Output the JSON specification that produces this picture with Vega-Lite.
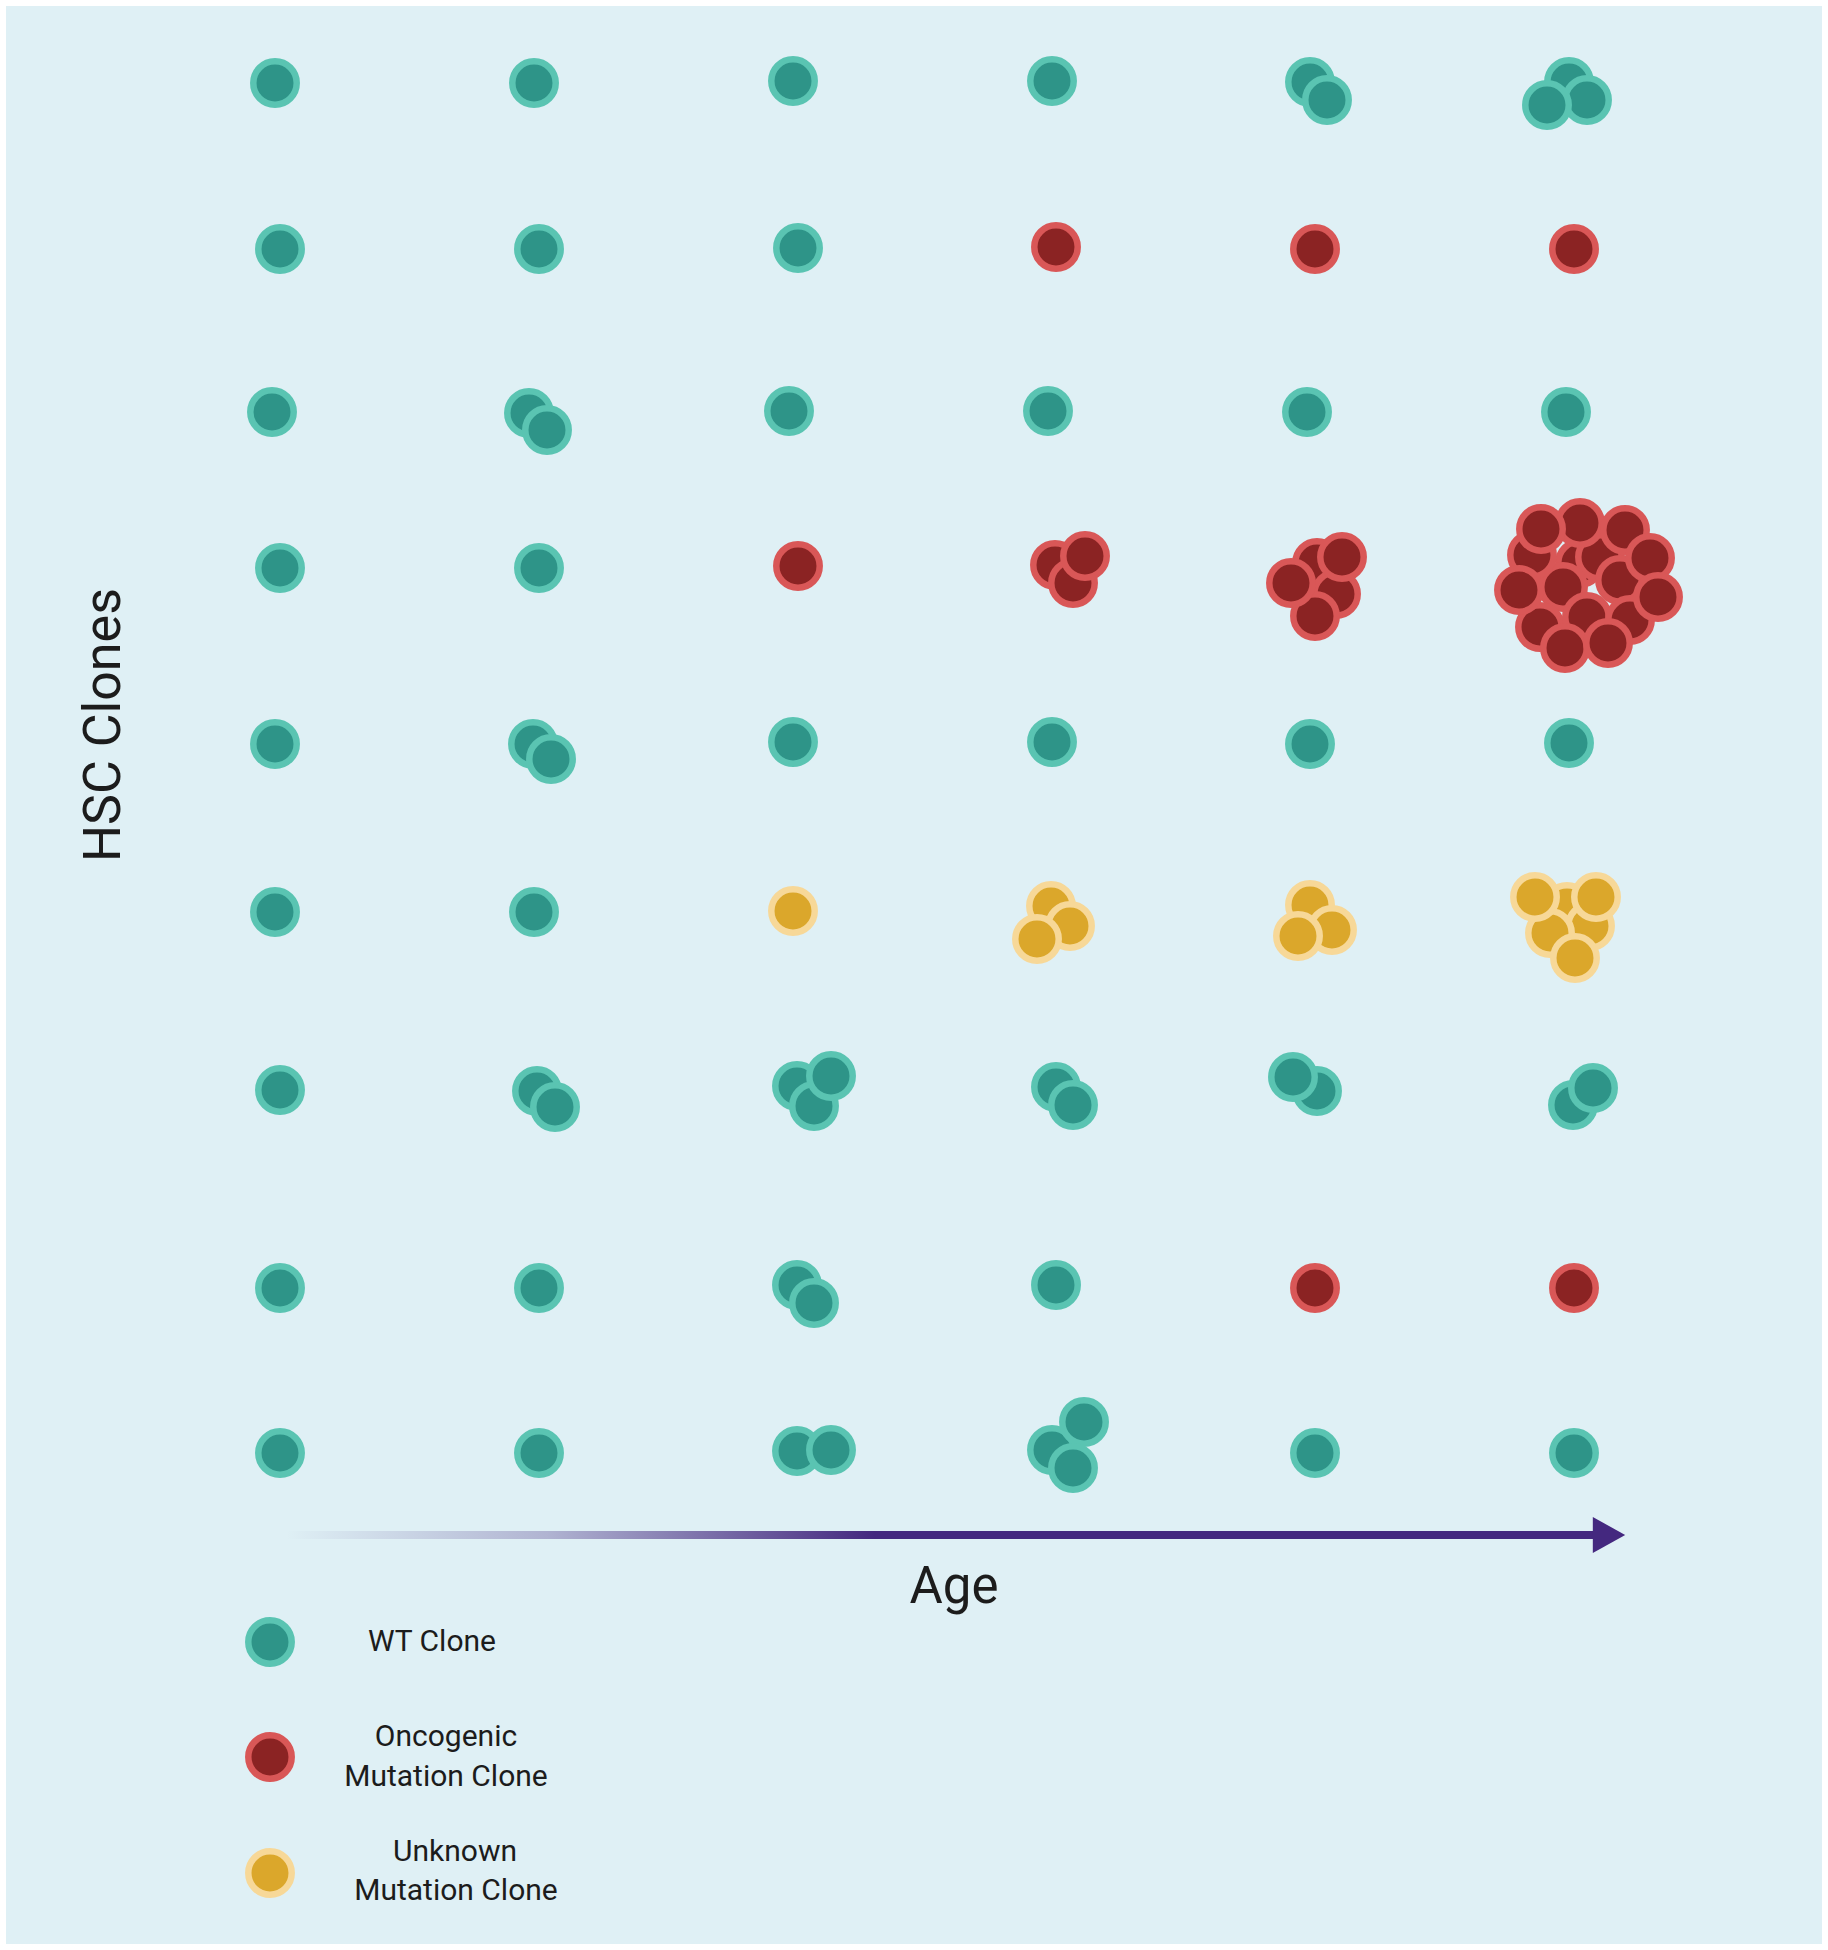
{
  "$schema": "https://vega.github.io/schema/vega-lite/v6.json",
  "width": 1828,
  "height": 1950,
  "autosize": {"type": "fit", "contains": "padding"},
  "padding": 0,
  "background": "#ffffff",
  "config": {"view": {"stroke": null}},
  "datasets": {
    "panel": [{"x": 6, "x2": 1822, "y": 6, "y2": 1944}],
    "arrow": [{"x": 286, "x2": 1594, "y": 1531, "y2": 1539}],
    "head": [{"x": 1609, "y": 1535}],
    "cells": [
      {"age": 1, "clone": 1, "type": "WT", "x": 275, "y": 83},
      {"age": 2, "clone": 1, "type": "WT", "x": 534, "y": 83},
      {"age": 3, "clone": 1, "type": "WT", "x": 793, "y": 81},
      {"age": 4, "clone": 1, "type": "WT", "x": 1052, "y": 81},
      {"age": 5, "clone": 1, "type": "WT", "x": 1310, "y": 82},
      {"age": 5, "clone": 1, "type": "WT", "x": 1327, "y": 100},
      {"age": 6, "clone": 1, "type": "WT", "x": 1569, "y": 82},
      {"age": 6, "clone": 1, "type": "WT", "x": 1587, "y": 100},
      {"age": 6, "clone": 1, "type": "WT", "x": 1547, "y": 105},

      {"age": 1, "clone": 2, "type": "WT", "x": 280, "y": 249},
      {"age": 2, "clone": 2, "type": "WT", "x": 539, "y": 249},
      {"age": 3, "clone": 2, "type": "WT", "x": 798, "y": 248},
      {"age": 4, "clone": 2, "type": "Oncogenic", "x": 1056, "y": 247},
      {"age": 5, "clone": 2, "type": "Oncogenic", "x": 1315, "y": 249},
      {"age": 6, "clone": 2, "type": "Oncogenic", "x": 1574, "y": 249},

      {"age": 1, "clone": 3, "type": "WT", "x": 272, "y": 412},
      {"age": 2, "clone": 3, "type": "WT", "x": 529, "y": 413},
      {"age": 2, "clone": 3, "type": "WT", "x": 547, "y": 430},
      {"age": 3, "clone": 3, "type": "WT", "x": 789, "y": 411},
      {"age": 4, "clone": 3, "type": "WT", "x": 1048, "y": 411},
      {"age": 5, "clone": 3, "type": "WT", "x": 1307, "y": 412},
      {"age": 6, "clone": 3, "type": "WT", "x": 1566, "y": 412},

      {"age": 1, "clone": 4, "type": "WT", "x": 280, "y": 568},
      {"age": 2, "clone": 4, "type": "WT", "x": 539, "y": 568},
      {"age": 3, "clone": 4, "type": "Oncogenic", "x": 798, "y": 566},
      {"age": 4, "clone": 4, "type": "Oncogenic", "x": 1055, "y": 565},
      {"age": 4, "clone": 4, "type": "Oncogenic", "x": 1073, "y": 583},
      {"age": 4, "clone": 4, "type": "Oncogenic", "x": 1085, "y": 556},
      {"age": 5, "clone": 4, "type": "Oncogenic", "x": 1317, "y": 563},
      {"age": 5, "clone": 4, "type": "Oncogenic", "x": 1336, "y": 594},
      {"age": 5, "clone": 4, "type": "Oncogenic", "x": 1315, "y": 616},
      {"age": 5, "clone": 4, "type": "Oncogenic", "x": 1291, "y": 583},
      {"age": 5, "clone": 4, "type": "Oncogenic", "x": 1342, "y": 557},
      {"age": 6, "clone": 4, "type": "Oncogenic", "x": 1580, "y": 563},
      {"age": 6, "clone": 4, "type": "Oncogenic", "x": 1600, "y": 557},
      {"age": 6, "clone": 4, "type": "Oncogenic", "x": 1563, "y": 587},
      {"age": 6, "clone": 4, "type": "Oncogenic", "x": 1620, "y": 580},
      {"age": 6, "clone": 4, "type": "Oncogenic", "x": 1532, "y": 555},
      {"age": 6, "clone": 4, "type": "Oncogenic", "x": 1540, "y": 627},
      {"age": 6, "clone": 4, "type": "Oncogenic", "x": 1587, "y": 617},
      {"age": 6, "clone": 4, "type": "Oncogenic", "x": 1630, "y": 620},
      {"age": 6, "clone": 4, "type": "Oncogenic", "x": 1580, "y": 523},
      {"age": 6, "clone": 4, "type": "Oncogenic", "x": 1541, "y": 529},
      {"age": 6, "clone": 4, "type": "Oncogenic", "x": 1625, "y": 530},
      {"age": 6, "clone": 4, "type": "Oncogenic", "x": 1650, "y": 558},
      {"age": 6, "clone": 4, "type": "Oncogenic", "x": 1658, "y": 597},
      {"age": 6, "clone": 4, "type": "Oncogenic", "x": 1519, "y": 590},
      {"age": 6, "clone": 4, "type": "Oncogenic", "x": 1565, "y": 648},
      {"age": 6, "clone": 4, "type": "Oncogenic", "x": 1608, "y": 643},

      {"age": 1, "clone": 5, "type": "WT", "x": 275, "y": 744},
      {"age": 2, "clone": 5, "type": "WT", "x": 533, "y": 744},
      {"age": 2, "clone": 5, "type": "WT", "x": 551, "y": 759},
      {"age": 3, "clone": 5, "type": "WT", "x": 793, "y": 742},
      {"age": 4, "clone": 5, "type": "WT", "x": 1052, "y": 742},
      {"age": 5, "clone": 5, "type": "WT", "x": 1310, "y": 744},
      {"age": 6, "clone": 5, "type": "WT", "x": 1569, "y": 743},

      {"age": 1, "clone": 6, "type": "WT", "x": 275, "y": 912},
      {"age": 2, "clone": 6, "type": "WT", "x": 534, "y": 912},
      {"age": 3, "clone": 6, "type": "Unknown", "x": 793, "y": 911},
      {"age": 4, "clone": 6, "type": "Unknown", "x": 1051, "y": 906},
      {"age": 4, "clone": 6, "type": "Unknown", "x": 1070, "y": 926},
      {"age": 4, "clone": 6, "type": "Unknown", "x": 1037, "y": 939},
      {"age": 5, "clone": 6, "type": "Unknown", "x": 1310, "y": 905},
      {"age": 5, "clone": 6, "type": "Unknown", "x": 1332, "y": 930},
      {"age": 5, "clone": 6, "type": "Unknown", "x": 1298, "y": 936},
      {"age": 6, "clone": 6, "type": "Unknown", "x": 1567, "y": 907},
      {"age": 6, "clone": 6, "type": "Unknown", "x": 1590, "y": 926},
      {"age": 6, "clone": 6, "type": "Unknown", "x": 1550, "y": 933},
      {"age": 6, "clone": 6, "type": "Unknown", "x": 1535, "y": 897},
      {"age": 6, "clone": 6, "type": "Unknown", "x": 1596, "y": 897},
      {"age": 6, "clone": 6, "type": "Unknown", "x": 1575, "y": 958},

      {"age": 1, "clone": 7, "type": "WT", "x": 280, "y": 1090},
      {"age": 2, "clone": 7, "type": "WT", "x": 537, "y": 1091},
      {"age": 2, "clone": 7, "type": "WT", "x": 555, "y": 1107},
      {"age": 3, "clone": 7, "type": "WT", "x": 797, "y": 1086},
      {"age": 3, "clone": 7, "type": "WT", "x": 814, "y": 1106},
      {"age": 3, "clone": 7, "type": "WT", "x": 831, "y": 1076},
      {"age": 4, "clone": 7, "type": "WT", "x": 1056, "y": 1087},
      {"age": 4, "clone": 7, "type": "WT", "x": 1073, "y": 1105},
      {"age": 5, "clone": 7, "type": "WT", "x": 1317, "y": 1091},
      {"age": 5, "clone": 7, "type": "WT", "x": 1293, "y": 1077},
      {"age": 6, "clone": 7, "type": "WT", "x": 1573, "y": 1105},
      {"age": 6, "clone": 7, "type": "WT", "x": 1593, "y": 1088},

      {"age": 1, "clone": 8, "type": "WT", "x": 280, "y": 1288},
      {"age": 2, "clone": 8, "type": "WT", "x": 539, "y": 1288},
      {"age": 3, "clone": 8, "type": "WT", "x": 797, "y": 1285},
      {"age": 3, "clone": 8, "type": "WT", "x": 814, "y": 1303},
      {"age": 4, "clone": 8, "type": "WT", "x": 1056, "y": 1285},
      {"age": 5, "clone": 8, "type": "Oncogenic", "x": 1315, "y": 1288},
      {"age": 6, "clone": 8, "type": "Oncogenic", "x": 1574, "y": 1288},

      {"age": 1, "clone": 9, "type": "WT", "x": 280, "y": 1453},
      {"age": 2, "clone": 9, "type": "WT", "x": 539, "y": 1453},
      {"age": 3, "clone": 9, "type": "WT", "x": 797, "y": 1451},
      {"age": 3, "clone": 9, "type": "WT", "x": 831, "y": 1450},
      {"age": 4, "clone": 9, "type": "WT", "x": 1052, "y": 1450},
      {"age": 4, "clone": 9, "type": "WT", "x": 1084, "y": 1422},
      {"age": 4, "clone": 9, "type": "WT", "x": 1073, "y": 1468},
      {"age": 5, "clone": 9, "type": "WT", "x": 1315, "y": 1453},
      {"age": 6, "clone": 9, "type": "WT", "x": 1574, "y": 1453}
    ],
    "legend": [
      {"type": "WT", "x": 270, "y": 1642},
      {"type": "Oncogenic", "x": 270, "y": 1757},
      {"type": "Unknown", "x": 270, "y": 1873}
    ],
    "legendText": [
      {"text": "WT Clone", "x": 432, "y": 1642},
      {"text": "Oncogenic", "x": 446, "y": 1737},
      {"text": "Mutation Clone", "x": 446, "y": 1777},
      {"text": "Unknown", "x": 455, "y": 1852},
      {"text": "Mutation Clone", "x": 456, "y": 1891}
    ],
    "ageTitle": [{"text": "Age", "x": 954, "y": 1603}],
    "cloneTitle": [{"text": "HSC Clones", "x": 104, "y": 725}]
  },
  "encoding": {
    "x": {"field": "x", "type": "quantitative", "scale": {"domain": [0, 1828], "nice": false, "zero": false}, "axis": null},
    "y": {"field": "y", "type": "quantitative", "scale": {"domain": [0, 1950], "nice": false, "zero": false, "reverse": true}, "axis": null}
  },
  "layer": [
    {
      "data": {"name": "panel"},
      "mark": {"type": "rect", "fill": "#dff0f5"},
      "encoding": {"x2": {"field": "x2"}, "y2": {"field": "y2"}}
    },
    {
      "data": {"name": "arrow"},
      "mark": {
        "type": "rect",
        "fill": {
          "gradient": "linear", "x1": 0, "y1": 0, "x2": 1, "y2": 0,
          "stops": [
            {"offset": 0, "color": "rgba(68,40,127,0)"},
            {"offset": 0.2, "color": "rgba(68,40,127,0.3)"},
            {"offset": 0.45, "color": "#44287f"},
            {"offset": 1, "color": "#44287f"}
          ]
        }
      },
      "encoding": {"x2": {"field": "x2"}, "y2": {"field": "y2"}}
    },
    {
      "data": {"name": "head"},
      "mark": {"type": "point", "shape": "M -0.9 -1 L 0.9 0 L -0.9 1 Z", "filled": true, "fill": "#44287f", "strokeWidth": 0, "size": 1296, "opacity": 1}
    },
    {
      "data": {"name": "cells"},
      "mark": {"type": "point", "shape": "circle", "filled": true, "size": 1886, "strokeWidth": 6.5, "opacity": 1, "fillOpacity": 1, "strokeOpacity": 1},
      "encoding": {
        "fill": {"field": "type", "type": "nominal", "scale": {"domain": ["WT", "Oncogenic", "Unknown"], "range": ["#2e9488", "#8b2323", "#dba72b"]}, "legend": null},
        "stroke": {"field": "type", "type": "nominal", "scale": {"domain": ["WT", "Oncogenic", "Unknown"], "range": ["#5ac4b2", "#d95757", "#f7d898"]}, "legend": null}
      }
    },
    {
      "data": {"name": "legend"},
      "mark": {"type": "point", "shape": "circle", "filled": true, "size": 1886, "strokeWidth": 6.5, "opacity": 1, "fillOpacity": 1, "strokeOpacity": 1},
      "encoding": {
        "fill": {"field": "type", "type": "nominal", "scale": {"domain": ["WT", "Oncogenic", "Unknown"], "range": ["#2e9488", "#8b2323", "#dba72b"]}, "legend": null},
        "stroke": {"field": "type", "type": "nominal", "scale": {"domain": ["WT", "Oncogenic", "Unknown"], "range": ["#5ac4b2", "#d95757", "#f7d898"]}, "legend": null}
      }
    },
    {
      "data": {"name": "legendText"},
      "mark": {"type": "text", "font": "Roboto", "fontSize": 30, "color": "#1c1c1c", "align": "center", "baseline": "middle"},
      "encoding": {"text": {"field": "text"}}
    },
    {
      "data": {"name": "ageTitle"},
      "mark": {"type": "text", "font": "Roboto", "fontSize": 51, "color": "#1c1c1c", "align": "center", "baseline": "alphabetic"},
      "encoding": {"text": {"field": "text"}}
    },
    {
      "data": {"name": "cloneTitle"},
      "mark": {"type": "text", "font": "Roboto", "fontSize": 52, "color": "#1c1c1c", "align": "center", "baseline": "middle", "angle": 270},
      "encoding": {"text": {"field": "text"}}
    }
  ]
}
